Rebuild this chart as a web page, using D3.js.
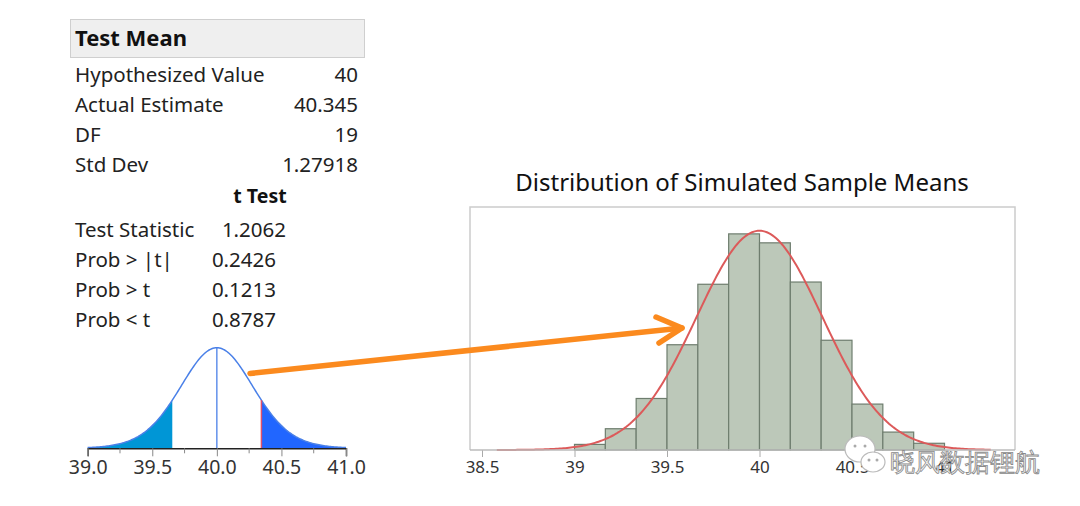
<!DOCTYPE html>
<html>
<head>
<meta charset="utf-8">
<script src="https://cdn.jsdelivr.net/npm/d3@7"></script>
<style>
  body { margin: 0; background: #fff; }
  svg { display: block; }
  text { font-family: "Noto Sans", sans-serif; }
</style>
</head>
<body>
<svg id="chart"></svg>
<script>
// table values (JMP "Test Mean" report)
var statLabels = ["Hypothesized Value", "Actual Estimate", "DF", "Std Dev"];
var statValues = ["40", "40.345", "19", "1.27918"];
var testLabels = ["Test Statistic", "Prob > |t|", "Prob > t", "Prob < t"];
var testValues = ["1.2062", "0.2426", "0.1213", "0.8787"];

var hypValue = 40, estimate = 40.345, df = 19, stdDev = 1.27918;

// small t-distribution plot
var tTicks = [39.0, 39.5, 40.0, 40.5, 41.0];
var tMinorTicks = [39.25, 39.75, 40.25, 40.75];

// histogram of simulated sample means
var binStarts = [39.0, 39.1667, 39.3333, 39.5, 39.6667, 39.8333, 40.0, 40.1667, 40.3333, 40.5, 40.6667, 40.8333];
var binWidth = 0.1667;
var counts = [5, 19, 46, 94, 148, 193, 185, 150, 98, 41, 16, 6];
var histTicks = [38.5, 39, 39.5, 40, 40.5, 41];
var fitMean = 40, fitSd = 0.34, fitFrom = 38.58, fitTo = 41.25;

var W = 1080, H = 506;
var svg = d3.select('#chart').attr("width", W).attr("height", H);
svg.append("rect").attr("width", W).attr("height", H).attr("fill", "#fff");

// ---------- report table ----------
var tbl = svg.append("g");
tbl.append("rect")
    .attr("x", 70.5).attr("y", 19.5).attr("width", 294).attr("height", 38)
    .attr("fill", "#efefef").attr("stroke", "#cfcfcf");
tbl.append("text").attr("x", 75).attr("y", 45.5)
    .attr("font-size", 22).attr("font-weight", "bold").attr("fill", "#111")
    .text("Test Mean");

tbl.selectAll("text.slab").data(statLabels).enter().append("text")
    .attr("class", "slab")
    .attr("x", 75).attr("y", function(d, i) { return 82 + i * 30; })
    .attr("font-size", 20.5).attr("fill", "#222")
    .text(function(d) { return d; });
tbl.selectAll("text.sval").data(statValues).enter().append("text")
    .attr("class", "sval")
    .attr("x", 358).attr("y", function(d, i) { return 82 + i * 30; })
    .attr("text-anchor", "end")
    .attr("font-size", 20.5).attr("fill", "#222")
    .text(function(d) { return d; });

tbl.append("text").attr("x", 260).attr("y", 203)
    .attr("text-anchor", "middle")
    .attr("font-size", 19.5).attr("font-weight", "bold").attr("fill", "#111")
    .text("t Test");

tbl.selectAll("text.tlab").data(testLabels).enter().append("text")
    .attr("class", "tlab")
    .attr("x", 75).attr("y", function(d, i) { return 237 + i * 30; })
    .attr("font-size", 20.5).attr("fill", "#222")
    .text(function(d) { return d; });
tbl.selectAll("text.tval").data(testValues).enter().append("text")
    .attr("class", "tval")
    .attr("x", function(d, i) { return i == 0 ? 286 : 276; })
    .attr("y", function(d, i) { return 237 + i * 30; })
    .attr("text-anchor", "end")
    .attr("font-size", 20.5).attr("fill", "#222")
    .text(function(d) { return d; });

// ---------- small t density ----------
var se = stdDev / Math.sqrt(df + 1);
function tShape(v) {
    var t = (v - hypValue) / se;
    return Math.pow(1 + t * t / df, -(df + 1) / 2);
}
var tx = d3.scaleLinear().domain([39, 41]).range([87.7, 346]);
var ty = d3.scaleLinear().domain([0, 1]).range([448.3, 347.7]);
var tg = svg.append("g");

var delta = estimate - hypValue;
var area = d3.area()
    .x(function(d) { return tx(d); })
    .y0(ty(0))
    .y1(function(d) { return ty(tShape(d)); });
var leftPts = d3.range(39, hypValue - delta + 0.0001, 0.005);
var rightPts = d3.range(estimate, 41.0001, 0.005);
tg.append("path").datum(leftPts).attr("d", area).attr("fill", "#0096d6");
tg.append("path").datum(rightPts).attr("d", area).attr("fill", "#2166ff");

var curvePts = d3.range(39, 41.0001, 0.01);
tg.append("path").datum(curvePts)
    .attr("d", d3.line().x(function(d) { return tx(d); }).y(function(d) { return ty(tShape(d)); }))
    .attr("fill", "none").attr("stroke", "#4a80e8").attr("stroke-width", 1.5);

tg.append("line")
    .attr("x1", tx(hypValue)).attr("x2", tx(hypValue))
    .attr("y1", ty(0)).attr("y2", ty(1))
    .attr("stroke", "#4a80e8").attr("stroke-width", 1.3);
tg.append("line")
    .attr("x1", tx(estimate)).attr("x2", tx(estimate))
    .attr("y1", ty(0)).attr("y2", ty(tShape(estimate)))
    .attr("stroke", "#e0506a").attr("stroke-width", 1.5);

var tAxis = tg.append("g").attr("transform", "translate(0," + ty(0) + ")")
    .call(d3.axisBottom(tx).tickValues(tTicks).tickFormat(d3.format(".1f")).tickSize(8).tickPadding(4));
tAxis.select(".domain").attr("stroke", "#222").attr("stroke-width", 1.5);
tAxis.selectAll(".tick line").attr("stroke", "#888");
tAxis.selectAll(".tick text").attr("font-size", 19.5).attr("fill", "#333")
    .attr("font-family", "'Noto Sans', sans-serif");
tg.selectAll("line.minor").data(tMinorTicks).enter().append("line")
    .attr("class", "minor")
    .attr("x1", function(d) { return tx(d); }).attr("x2", function(d) { return tx(d); })
    .attr("y1", ty(0)).attr("y2", ty(0) + 5)
    .attr("stroke", "#888");

// ---------- histogram ----------
var hx = d3.scaleLinear().domain([38.5, 41]).range([482, 944.5]);
var hy = d3.scaleLinear().domain([0, 217]).range([450, 207]);
var hg = svg.append("g");
var fL = 470, fR = 1015;

svg.append("text").attr("x", 742).attr("y", 191)
    .attr("text-anchor", "middle")
    .attr("font-family", "'Open Sans', sans-serif")
    .attr("font-size", 24).attr("fill", "#111")
    .text("Distribution of Simulated Sample Means");

hg.append("path")
    .attr("d", "M" + fL + "," + hy(0) + "V" + hy(217) + "H" + fR + "V" + hy(0))
    .attr("fill", "none").attr("stroke", "#cccccc").attr("stroke-width", 1.5);

hg.selectAll("rect.bar").data(counts).enter().append("rect")
    .attr("class", "bar")
    .attr("x", function(d, i) { return hx(binStarts[i]); })
    .attr("width", function(d, i) { return hx(binStarts[i] + binWidth) - hx(binStarts[i]); })
    .attr("y", function(d) { return hy(d); })
    .attr("height", function(d) { return hy(0) - hy(d); })
    .attr("fill", "#bcc8b9").attr("stroke", "#6e7d6e").attr("stroke-width", 1.2);

var nTotal = d3.sum(counts);
function fitCount(v) {
    var z = (v - fitMean) / fitSd;
    return nTotal * binWidth * Math.exp(-z * z / 2) / (fitSd * Math.sqrt(2 * Math.PI));
}
hg.append("path").datum(d3.range(fitFrom, fitTo, 0.01))
    .attr("d", d3.line().x(function(d) { return hx(d); }).y(function(d) { return hy(fitCount(d)); }))
    .attr("fill", "none").attr("stroke", "#dc5a5a").attr("stroke-width", 2);

var hAxis = hg.append("g").attr("transform", "translate(0," + hy(0) + ")")
    .call(d3.axisBottom(hx).tickValues(histTicks).tickFormat(d3.format("")).tickSize(7).tickPadding(4));
hAxis.select(".domain").remove();
hg.append("line").attr("x1", fL).attr("x2", fR).attr("y1", hy(0)).attr("y2", hy(0))
    .attr("stroke", "#bbbbbb").attr("stroke-width", 1.5);
hAxis.selectAll(".tick line").attr("stroke", "#aaa");
hAxis.selectAll(".tick text").attr("font-size", 17).attr("fill", "#333")
    .attr("font-family", "'Noto Sans', sans-serif");

// ---------- orange arrow ----------
var arrow = svg.append("g").attr("stroke", "#fb8a1e").attr("stroke-width", 5.5)
    .attr("stroke-linecap", "round").attr("fill", "none");
arrow.append("line").attr("x1", 250).attr("y1", 373.5).attr("x2", 682).attr("y2", 328);
arrow.append("path").attr("d", "M656,317L682,328L659,343").attr("stroke-linejoin", "round");

// ---------- watermark ----------
var wm = svg.append("g");
wm.append("ellipse").attr("cx", 860).attr("cy", 449).attr("rx", 15).attr("ry", 13)
    .attr("fill", "#fff").attr("stroke", "#bbb").attr("stroke-width", 1.2);
wm.append("ellipse").attr("cx", 873).attr("cy", 462).attr("rx", 12).attr("ry", 10)
    .attr("fill", "#fff").attr("stroke", "#bbb").attr("stroke-width", 1.2);
[[855, 446], [865, 446], [869, 460], [877, 460]].forEach(function(p) {
    wm.append("circle").attr("cx", p[0]).attr("cy", p[1]).attr("r", 1.5).attr("fill", "#aaa");
});
wm.append("text").attr("x", 890).attr("y", 471)
    .attr("font-family", "'Noto Sans CJK SC', sans-serif")
    .attr("font-size", 25).attr("fill", "#f2f2f2")
    .attr("stroke", "#8a8a8a").attr("stroke-width", 0.8)
    .text("晓风数据锂航");
</script>
</body>
</html>
